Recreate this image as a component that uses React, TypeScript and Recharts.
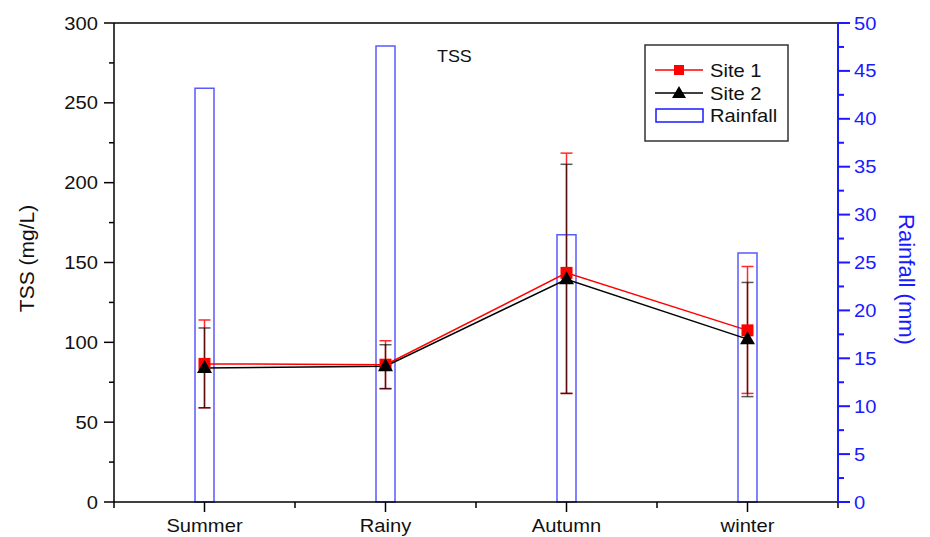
import React from 'react';
import { ComposedChart, Bar, Line, XAxis, YAxis, ErrorBar, ReferenceLine, Label } from 'recharts';

document.body.style.margin = '0';

const seasons = ['Summer', 'Rainy', 'Autumn', 'winter'];
const site1 = [86.5, 86, 143.5, 107.5];
const site1Err = [[27.5, 27.5], [15, 15], [75.5, 75], [39.5, 40]];
const site2 = [84, 85, 139.5, 102];
const site2Err = [[25, 25], [14, 13.5], [71.5, 72], [36, 35.5]];
const rainfall = [43.2, 47.6, 27.9, 26];

const tssTicks = [0, 25, 50, 75, 100, 125, 150, 175, 200, 225, 250, 275, 300];
const rainTicks = [0, 2.5, 5, 7.5, 10, 12.5, 15, 17.5, 20, 22.5, 25, 27.5, 30, 32.5, 35, 37.5, 40, 42.5, 45, 47.5, 50];

const data = seasons.map((s, i) => ({
  season: s,
  site1: site1[i],
  site1Err: site1Err[i],
  site2: site2[i],
  site2Err: site2Err[i],
  rainfall: rainfall[i],
}));

const FONT = '"Liberation Sans", Arial, sans-serif';
const BLUE = '#1a1aff';
const SX = 1.12;

// text stretched a bit horizontally, like the original export
const Txt = ({ x, y, anchor = 'start', size = 18, fill = '#111', children }: any) => (
  <text
    transform={`translate(${x},${y}) scale(${SX},1)`}
    textAnchor={anchor}
    fontFamily={FONT}
    fontSize={size}
    fill={fill}
  >
    {children}
  </text>
);

const LeftTick = ({ x, y, payload }: any) => {
  const major = payload.value % 50 === 0;
  return (
    <g>
      <line x1={x - (major ? 10 : 5)} x2={x} y1={y} y2={y} stroke="#000" strokeWidth={1.5} />
      {major && <Txt x={x - 16} y={y + 6.5} anchor="end">{payload.value}</Txt>}
    </g>
  );
};

const RightTick = ({ x, y, payload }: any) => {
  const major = payload.value % 5 === 0;
  return (
    <g>
      <line x1={x} x2={x + (major ? 12 : 6)} y1={y} y2={y} stroke={BLUE} strokeWidth={2} />
      {major && <Txt x={x + 16} y={y + 6.5} fill={BLUE}>{payload.value}</Txt>}
    </g>
  );
};

const BottomTick = ({ x, y, payload, index, visibleTicksCount }: any) => {
  const half = payload.offset || 90.5;
  return (
    <g>
      <line x1={x} x2={x} y1={y} y2={y + 10} stroke="#000" strokeWidth={1.5} />
      <line x1={x - half} x2={x - half} y1={y} y2={y + 6} stroke="#000" strokeWidth={1.5} />
      {index === visibleTicksCount - 1 && (
        <line x1={x + half} x2={x + half} y1={y} y2={y + 6} stroke="#000" strokeWidth={1.5} />
      )}
      <Txt x={x} y={y + 30} anchor="middle">{payload.value}</Txt>
    </g>
  );
};

const Square = (p: any) =>
  p.cx == null ? <g key={`sq${p.index}`} /> : (
    <rect key={`sq${p.index}`} x={p.cx - 6} y={p.cy - 6} width={12} height={12} fill="#ff0000" />
  );

const Triangle = (p: any) =>
  p.cx == null ? <g key={`tr${p.index}`} /> : (
    <polygon
      key={`tr${p.index}`}
      points={`${p.cx},${p.cy - 8} ${p.cx - 7.5},${p.cy + 5} ${p.cx + 7.5},${p.cy + 5}`}
      fill="#000"
    />
  );

const LeftTitle = ({ viewBox }: any) => {
  const cx = viewBox.x + 34;
  const cy = viewBox.y + viewBox.height / 2 - 4;
  return (
    <text transform={`translate(${cx},${cy}) rotate(-90)`} textAnchor="middle" fontFamily={FONT} fontSize={21} fill="#111">
      TSS (mg/L)
    </text>
  );
};

const RightTitle = ({ viewBox }: any) => {
  const cx = viewBox.x + 61;
  const cy = viewBox.y + viewBox.height / 2 + 17;
  return (
    <text transform={`translate(${cx},${cy}) rotate(90)`} textAnchor="middle" fontFamily={FONT} fontSize={22} fill={BLUE}>
      Rainfall (mm)
    </text>
  );
};

const Overlay = () => (
  <svg width={930} height={537} style={{ position: 'absolute', left: 0, top: 0, pointerEvents: 'none' }}>
    <Txt x={437} y={62} size={16}>TSS</Txt>
    <rect x={645} y={45} width={143} height={96} fill="none" stroke="#333" strokeWidth={1.5} />
    <line x1={655} x2={703} y1={70} y2={70} stroke="#ff0000" strokeWidth={1.5} />
    <rect x={674} y={65} width={10} height={10} fill="#ff0000" />
    <Txt x={710} y={77}>Site 1</Txt>
    <line x1={655} x2={703} y1={93} y2={93} stroke="#000" strokeWidth={1.5} />
    <polygon points="679,86 672,98 686,98" fill="#000" />
    <Txt x={710} y={100}>Site 2</Txt>
    <rect x={656} y={109} width={47} height={13} fill="none" stroke={BLUE} strokeWidth={1.5} />
    <Txt x={710} y={122}>Rainfall</Txt>
  </svg>
);

export default function App() {
  return (
    <div style={{ position: 'relative', width: 930, height: 537, background: '#fff' }}>
      <ComposedChart width={930} height={537} data={data} margin={{ top: 23, right: 0, bottom: 0, left: 0 }}>
        <XAxis
          dataKey="season"
          height={35}
          axisLine={{ stroke: '#000', strokeWidth: 1.5 }}
          tickLine={false}
          tickSize={0}
          tickMargin={0}
          tick={<BottomTick />}
          interval={0}
        />
        <YAxis
          yAxisId="tss"
          orientation="left"
          width={114}
          domain={[0, 300]}
          ticks={tssTicks}
          interval={0}
          axisLine={{ stroke: '#000', strokeWidth: 1.5 }}
          tickLine={false}
          tickSize={0}
          tickMargin={0}
          tick={<LeftTick />}
        >
          <Label content={<LeftTitle />} />
        </YAxis>
        <YAxis
          yAxisId="rain"
          orientation="right"
          width={92}
          domain={[0, 50]}
          ticks={rainTicks}
          interval={0}
          axisLine={{ stroke: BLUE, strokeWidth: 2 }}
          tickLine={false}
          tickSize={0}
          tickMargin={0}
          tick={<RightTick />}
        >
          <Label content={<RightTitle />} />
        </YAxis>
        <ReferenceLine yAxisId="tss" y={300} stroke="#000" strokeWidth={1.5} />
        <Bar
          yAxisId="rain"
          dataKey="rainfall"
          barSize={19}
          fill="none"
          stroke="#5a5aff"
          strokeWidth={1.5}
          isAnimationActive={false}
        />
        <Line
          yAxisId="tss"
          dataKey="site1"
          type="linear"
          stroke="#ff0000"
          strokeWidth={1.5}
          dot={Square}
          activeDot={false}
          isAnimationActive={false}
        >
          <ErrorBar dataKey="site1Err" width={6} stroke="#ff2a2a" strokeWidth={1.5} direction="y" />
        </Line>
        <Line
          yAxisId="tss"
          dataKey="site2"
          type="linear"
          stroke="#000"
          strokeWidth={1.5}
          dot={Triangle}
          activeDot={false}
          isAnimationActive={false}
        >
          <ErrorBar dataKey="site2Err" width={6} stroke="#000" strokeOpacity={0.65} strokeWidth={1.5} direction="y" />
        </Line>
      </ComposedChart>
      <Overlay />
    </div>
  );
}
